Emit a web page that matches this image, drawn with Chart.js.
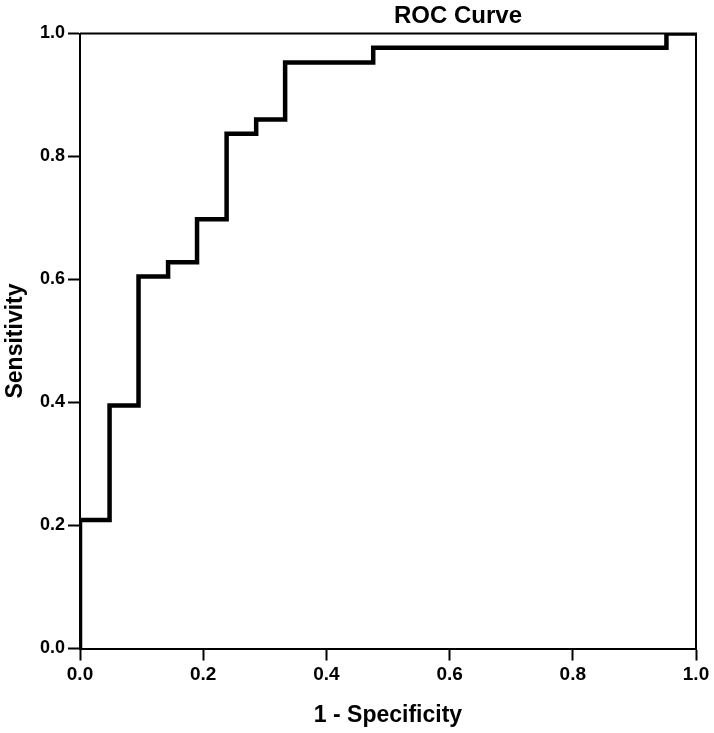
<!DOCTYPE html>
<html>
<head>
<meta charset="utf-8">
<script src="https://cdn.jsdelivr.net/npm/chart.js@4/dist/chart.umd.min.js"></script>
<style>
  html, body { margin: 0; padding: 0; background: #fff; }
  #wrap { width: 714px; height: 733px; position: relative; }
</style>
</head>
<body>
<div id="wrap"><canvas id="roc"></canvas></div>
<script>
// ROC points (corners of the step curve)
const fpr = [0, 0.048, 0.095, 0.143, 0.190, 0.238, 0.286, 0.333, 0.476, 0.952, 1.0];
const tpr = [0, 0.209, 0.395, 0.605, 0.628, 0.698, 0.837, 0.860, 0.953, 0.977, 1.0];
const tickValues = [0, 0.2, 0.4, 0.6, 0.8, 1.0];

const FONT = '"Liberation Sans", Arial, sans-serif';

// title sits off-centre in the original, so draw it ourselves; also close the box
const framePlugin = {
  id: 'frame',
  afterDraw(chart) {
    const { ctx, chartArea: a } = chart;
    ctx.save();
    ctx.strokeStyle = '#000';
    ctx.lineWidth = 2;
    ctx.beginPath();
    ctx.moveTo(a.left, a.top);
    ctx.lineTo(a.right, a.top);
    ctx.lineTo(a.right, a.bottom);
    ctx.stroke();
    ctx.fillStyle = '#000';
    ctx.font = 'bold 24px ' + FONT;
    ctx.textAlign = 'center';
    ctx.textBaseline = 'middle';
    ctx.fillText('ROC Curve', 458, 16);
    ctx.restore();
  }
};

const points = fpr.map((x, i) => ({ x, y: tpr[i] }));

new Chart(document.getElementById('roc'), {
  type: 'scatter',
  data: {
    datasets: [{
      data: points,
      showLine: true,
      stepped: 'after',
      borderColor: '#000',
      borderWidth: 4.5,
      pointRadius: 0,
      fill: false,
    }]
  },
  options: {
    responsive: true,
    maintainAspectRatio: false,
    animation: false,
    layout: { padding: { top: 33.5, right: 18, left: 0, bottom: 0 } },
    plugins: {
      legend: { display: false },
      tooltip: { enabled: false },
    },
    scales: {
      x: {
        type: 'linear',
        min: 0, max: 1,
        afterBuildTicks: s => { s.ticks = tickValues.map(v => ({ value: v })); },
        afterFit: s => { s.height = 84.5; },
        grid: { drawOnChartArea: false, tickLength: 12, tickWidth: 2, tickColor: '#000' },
        border: { color: '#000', width: 2 },
        ticks: {
          color: '#000', padding: 3, maxRotation: 0,
          font: { family: FONT, size: 19, weight: 'bold' },
          callback: v => Number(v).toFixed(1),
        },
        title: {
          display: true, text: '1 - Specificity', color: '#000',
          padding: { top: 4, bottom: 4 },
          font: { family: FONT, size: 23, weight: 'bold' },
        },
      },
      y: {
        type: 'linear',
        min: 0, max: 1,
        afterBuildTicks: s => { s.ticks = tickValues.map(v => ({ value: v })); },
        afterFit: s => { s.width = 80; },
        grid: { drawOnChartArea: false, tickLength: 12, tickWidth: 2, tickColor: '#000' },
        border: { color: '#000', width: 2 },
        ticks: {
          color: '#000', padding: 3,
          font: { family: FONT, size: 18, weight: 'bold' },
          callback: v => Number(v).toFixed(1),
        },
        title: {
          display: true, text: 'Sensitivity', color: '#000',
          padding: { top: 2, bottom: 2 },
          font: { family: FONT, size: 23, weight: 'bold' },
        },
      },
    },
  },
  plugins: [framePlugin],
});
</script>
</body>
</html>
